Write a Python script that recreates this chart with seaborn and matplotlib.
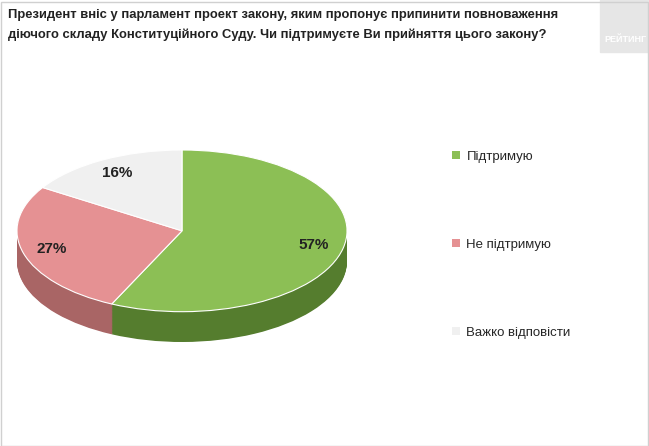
import matplotlib
matplotlib.use("Agg")
import matplotlib.pyplot as plt
import seaborn as sns
import numpy as np
from matplotlib.patches import Patch, Rectangle

categories = ["Підтримую", "Не підтримую", "Важко відповісти"]
values = [57, 27, 16]
pct_labels = ["57%", "27%", "16%"]
title = ("Президент вніс у парламент проект закону, яким пропонує припинити повноваження\n"
         "діючого складу Конституційного Суду. Чи підтримуєте Ви прийняття цього закону?")

sns.set_theme(style="white", font="Liberation Sans")
top_colors = sns.color_palette(["#8cbf55", "#e59193", "#f0f0f0"])
side_colors = sns.color_palette(["#557d2e", "#a96565", "#c9c9c9"])

W, H = 649, 446
fig = plt.figure(figsize=(W / 100, H / 100), dpi=100)
fig.patch.set_facecolor("white")

depth = 0.375
ax = fig.add_axes([17 / W, (H - 342) / H, 330 / W, 192 / H])
for d in np.linspace(depth, 0.01, 40):
    ax.pie(values, colors=side_colors, startangle=90, counterclock=False,
           center=(0, -d), radius=1, frame=True,
           wedgeprops=dict(linewidth=0))
ax.pie(values, colors=top_colors, startangle=90, counterclock=False,
       center=(0, 0), radius=1, frame=True, autopct=lambda p: f"{p:.0f}%",
       pctdistance=0.82, wedgeprops=dict(linewidth=0.8, edgecolor="white"),
       textprops=dict(fontsize=11, fontweight="bold", color="#222222"))
ax.set_aspect("auto")
ax.set_xlim(-1.0, 1.0)
ax.set_ylim(-1 - depth, 1)
ax.axis("off")

fig.text(8 / W, 1 - 9 / H, title, ha="left", va="top", fontsize=9.4,
         fontweight="bold", color="#222222", linespacing=1.75)

# logo
fig.patches.append(Rectangle((600 / W, 1 - 52 / H), 49 / W, 52 / H,
                             transform=fig.transFigure, color="#e6e6e6", zorder=0))
fig.text(625 / W, 1 - 40 / H, "РЕЙТИНГ", ha="center", va="center", fontsize=6.5,
         fontweight="bold", color="white")
# border
fig.patches.append(Rectangle((0.5 / W, 0.5 / H), (W - 2) / W, (H - 2) / H,
                             transform=fig.transFigure, fill=False,
                             edgecolor="#d0d0d0", linewidth=1))

handles = [Patch(facecolor=c, edgecolor="none") for c in top_colors]
fig.legend(handles, categories, loc="upper left", bbox_to_anchor=(440 / W, 1 - 139 / H),
           frameon=False, fontsize=9.5, labelspacing=5.75, handlelength=0.6,
           handleheight=0.6, handletextpad=0.5)

fig.savefig("out.png", dpi=100)
